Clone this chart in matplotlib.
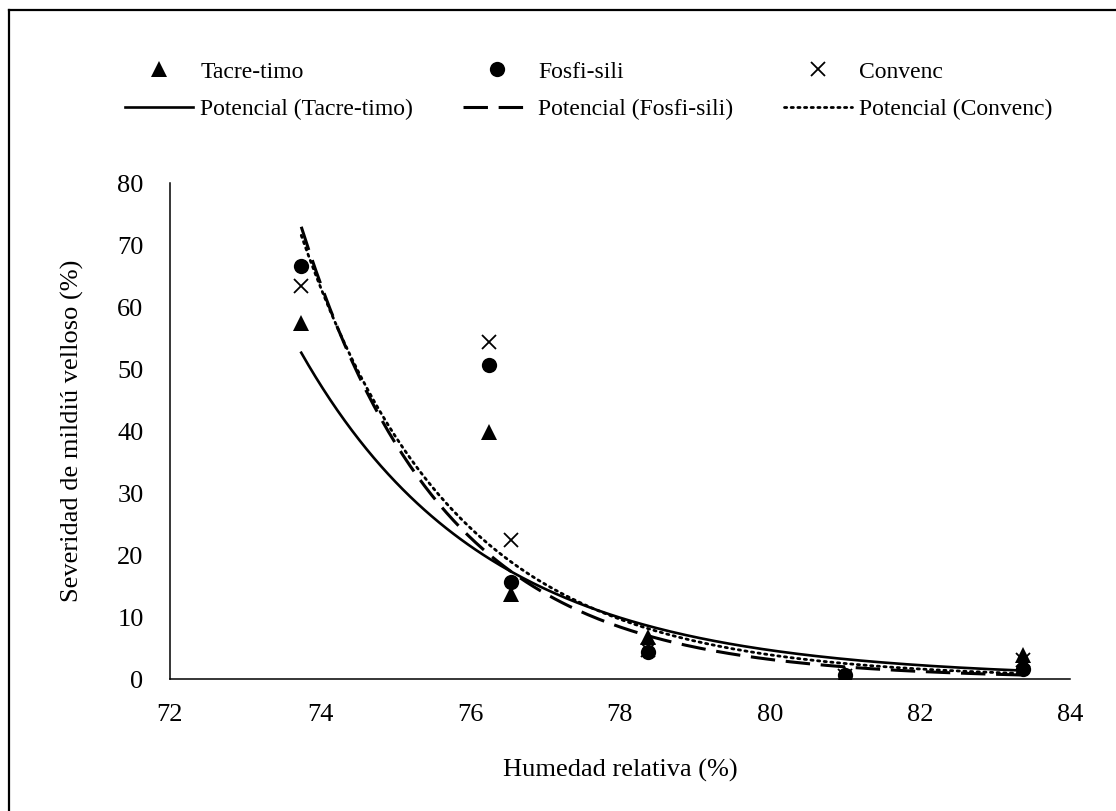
import numpy as np
import matplotlib
matplotlib.use('Agg')
import matplotlib.pyplot as plt
from matplotlib.lines import Line2D

plt.rcParams['font.family'] = ['Liberation Serif', 'DejaVu Serif']

# Relative humidity (%) for each evaluation
humedad = [73.75, 76.25, 76.55, 78.37, 81.0, 83.37]

# Downy mildew severity (%) per treatment
tacre_timo = [57.4, 39.9, 13.7, 6.8, 0.8, 3.9]
fosfi_sili = [66.6, 50.7, 15.7, 4.4, 0.6, 1.6]
convenc = [63.5, 54.4, 22.4, 4.6, 0.5, 3.0]

series_names = ['Tacre-timo', 'Fosfi-sili', 'Convenc']
x_ticks = [72, 74, 76, 78, 80, 82, 84]
y_ticks = [0, 10, 20, 30, 40, 50, 60, 70, 80]

TICK_FS = 19
LEGEND_FS = 17


def power_fit(x, y):
    """Excel style 'Potencial' trendline: y = a * x^b (log-log regression)."""
    b, ln_a = np.polyfit(np.log(x), np.log(y), 1)
    xs = np.linspace(min(x), max(x), 200)
    return xs, np.exp(ln_a) * xs ** b


fig = plt.figure(figsize=(11.16, 8.11), dpi=100)
ax = fig.add_axes([170 / 1116, 1 - 679 / 811, 900 / 1116, (679 - 183.3) / 811])

x = np.array(humedad)
data = [tacre_timo, fosfi_sili, convenc]
markers = [dict(marker='^', ms=11, mfc='black', mec='black', mew=0),
           dict(marker='o', ms=11, mfc='black', mec='black', mew=0),
           dict(marker='x', ms=10, mfc='none', mec='black', mew=1.3)]
line_styles = [dict(ls='-', lw=1.9),
               dict(ls=(0, (8, 3.5)), lw=2.2),
               dict(ls=(0, (0.8, 1.6)), lw=2.0, dash_capstyle='round')]

handles = []
for name, y, mk, lsty in zip(series_names, data, markers, line_styles):
    ax.plot(x, y, ls='none', zorder=3, **mk)
    xs, ys = power_fit(x, np.array(y))
    ax.plot(xs, ys, color='black', zorder=2, **lsty)
    handles.append(Line2D([], [], ls='none', **mk))
    handles.append(Line2D([], [], color='black', **lsty))

labels = []
for name in series_names:
    labels += [name, f'Potencial ({name})']

ax.set_xlim(72, 84)
ax.set_ylim(0, 80)
ax.set_xticks(x_ticks)
ax.set_yticks(y_ticks)
ax.tick_params(axis='both', which='both', length=0, labelsize=TICK_FS)
ax.tick_params(axis='x', pad=18)
ax.tick_params(axis='y', pad=19)
for side in ['top', 'right']:
    ax.spines[side].set_visible(False)
for side in ['left', 'bottom']:
    ax.spines[side].set_linewidth(1.1)

ax.set_xlabel('Humedad relativa (%)', fontsize=TICK_FS, labelpad=24)
ax.set_ylabel('Severidad de mildiú velloso (%)', fontsize=TICK_FS, labelpad=24)

fig.legend(handles, labels, ncol=3, loc='upper left',
           bbox_to_anchor=(125 / 1116, 1 - 61 / 811), frameon=False,
           fontsize=LEGEND_FS, handlelength=2.88, handletextpad=0.3,
           columnspacing=2.13, labelspacing=0.67, borderpad=0, borderaxespad=0)

# outer chart frame (only top and left edges fall inside the picture)
fig.add_artist(Line2D([9 / 1116, 1], [1 - 10 / 811] * 2, color='black', lw=1.6,
                      transform=fig.transFigure))
fig.add_artist(Line2D([9 / 1116] * 2, [0, 1 - 10 / 811], color='black', lw=1.6,
                      transform=fig.transFigure))

fig.savefig('out.png', dpi=100)
